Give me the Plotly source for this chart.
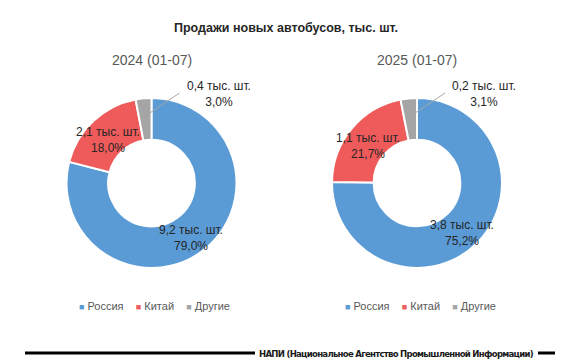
import math
import plotly.graph_objects as go

# ---- data ----
title_text = "Продажи новых автобусов, тыс. шт."
categories = ["Россия", "Китай", "Другие"]
colors = ["#5B9BD5", "#EF5B5B", "#A5A5A5"]
years = ["2024 (01-07)", "2025 (01-07)"]
values_2024 = [9.2, 2.1, 0.4]
values_2025 = [3.8, 1.1, 0.2]
shares_2024 = [79.0, 18.0, 3.0]
shares_2025 = [75.2, 21.7, 3.1]
source_text = "НАПИ (Национальное Агентство Промышленной Информации)"

W, H = 580, 360
R_OUT = 85
HOLE = 0.51
centers = [(151.5, 183), (417, 183)]

def fmt(v, d=1):
    return f"{v:.{d}f}".replace(".", ",")

def ann(text, x, y, size, color, family="Liberation Sans", **kw):
    return dict(text=text, x=x / W, y=1 - y / H, xref="paper", yref="paper",
                xanchor="center", yanchor="middle", showarrow=False,
                font=dict(size=size, color=color, family=family), **kw)

fig = go.Figure()
annotations = []
shapes = []

series = [(values_2024, shares_2024), (values_2025, shares_2025)]
for i, ((vals, shares), (cx, cy)) in enumerate(zip(series, centers)):
    fig.add_trace(go.Pie(
        labels=categories, values=shares, sort=False, direction="clockwise",
        rotation=0, hole=HOLE,
        marker=dict(colors=colors, line=dict(color="white", width=2)),
        textinfo="none", hoverinfo="label+value", showlegend=False,
        domain=dict(x=[(cx - R_OUT) / W, (cx + R_OUT) / W],
                    y=[1 - (cy + R_OUT) / H, 1 - (cy - R_OUT) / H]),
    ))
    annotations.append(ann(years[i], cx, 60, 14, "#595959"))
    total = sum(shares)
    start = 0.0
    r_mid = R_OUT * (1 + HOLE) / 2
    for j, (v, s) in enumerate(zip(vals, shares)):
        span = s / total * 360
        mid = math.radians(start + span / 2)
        start += span
        txt = f"{fmt(v)} тыс. шт.<br>{fmt(s)}%"
        if j < 2:
            lx = cx + r_mid * math.sin(mid)
            ly = cy - r_mid * math.cos(mid) + 4
        else:
            sx = cx + (r_mid + 3) * math.sin(mid)
            sy = cy - (r_mid + 3) * math.cos(mid)
            ex, ey = cx + 28, cy - 90
            shapes.append(dict(type="line", xref="paper", yref="paper",
                               x0=sx / W, y0=1 - sy / H, x1=ex / W, y1=1 - ey / H,
                               line=dict(color="#A6A6A6", width=1)))
            lx, ly = cx + 67, cy - 89
        annotations.append(ann(txt, lx, ly, 12, "#262626", align="center"))
    parts = [f'<span style="color:{c};font-size:9px">■</span> {n}' for n, c in zip(categories, colors)]
    annotations.append(ann("    ".join(parts), cx + 3, 306, 11, "#595959"))

annotations.append(ann(f"<b>{title_text}</b>", 286, 28, 12.5, "#262626"))
annotations.append(ann(f'<b><span style="letter-spacing:-0.72px">{source_text}</span></b>',
                       396, 353, 9.5, "#1a1a1a",
                       family="DejaVu Sans Condensed, Liberation Sans"))
shapes.append(dict(type="line", xref="paper", yref="paper", x0=25 / W, x1=255 / W,
                   y0=1 - 353 / H, y1=1 - 353 / H, line=dict(color="black", width=3)))
shapes.append(dict(type="line", xref="paper", yref="paper", x0=538 / W, x1=555 / W,
                   y0=1 - 353 / H, y1=1 - 353 / H, line=dict(color="black", width=3)))

fig.update_layout(width=W, height=H, margin=dict(l=0, r=0, t=0, b=0),
                  paper_bgcolor="white", plot_bgcolor="white",
                  annotations=annotations, shapes=shapes)
fig.write_html("out.html", config={"displayModeBar": False},
               post_script="document.body.style.margin='0';document.body.style.overflow='hidden';")
